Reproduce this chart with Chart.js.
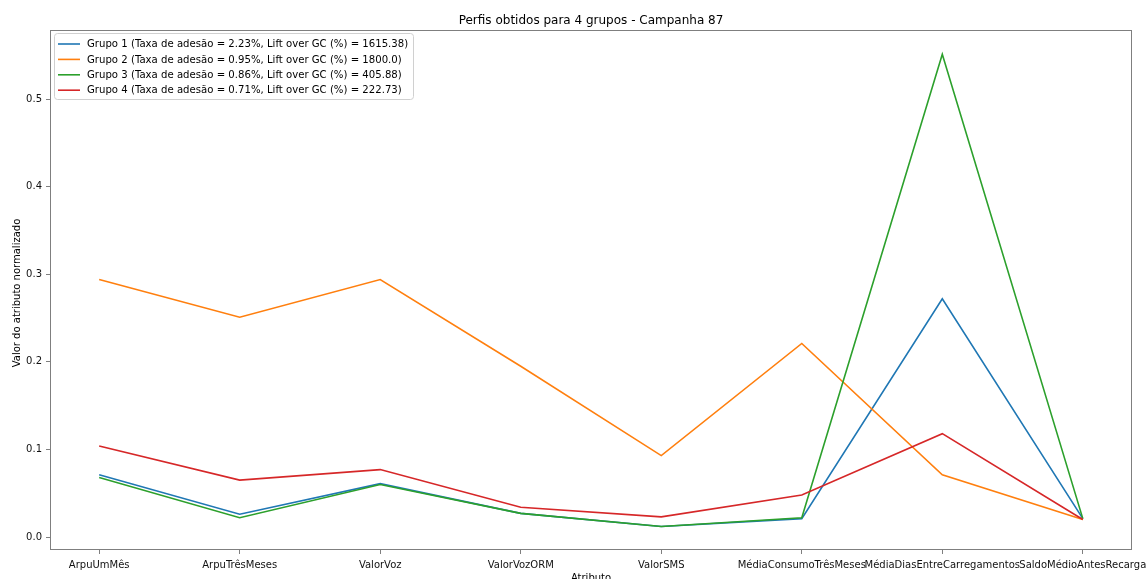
<!DOCTYPE html>
<html>
<head>
<meta charset="utf-8">
<script src="https://cdn.jsdelivr.net/npm/chart.js@4"></script>
<style>
  html, body { margin: 0; padding: 0; background: #fff; }
  #wrap { width: 1148px; height: 579px; }
</style>
</head>
<body>
<div id="wrap"><canvas id="myChart"></canvas></div>
<script>
const categories = ['ArpuUmMês', 'ArpuTrêsMeses', 'ValorVoz', 'ValorVozORM', 'ValorSMS',
  'MédiaConsumoTrêsMeses', 'MédiaDiasEntreCarregamentos', 'SaldoMédioAntesRecarga'];

const grupo1 = [0.071, 0.026, 0.061, 0.027, 0.012, 0.021, 0.272, 0.021];
const grupo2 = [0.294, 0.251, 0.294, 0.195, 0.093, 0.221, 0.071, 0.020];
const grupo3 = [0.068, 0.022, 0.060, 0.027, 0.012, 0.022, 0.551, 0.021];
const grupo4 = [0.104, 0.065, 0.077, 0.034, 0.023, 0.048, 0.118, 0.020];

const seriesLabels = [
  'Grupo 1 (Taxa de adesão = 2.23%, Lift over GC (%) = 1615.38)',
  'Grupo 2 (Taxa de adesão = 0.95%, Lift over GC (%) = 1800.0)',
  'Grupo 3 (Taxa de adesão = 0.86%, Lift over GC (%) = 405.88)',
  'Grupo 4 (Taxa de adesão = 0.71%, Lift over GC (%) = 222.73)'
];
const yTicks = [0.0, 0.1, 0.2, 0.3, 0.4, 0.5];

const colors = ['#1f77b4', '#ff7f0e', '#2ca02c', '#d62728'];
const FONT = 'DejaVu Sans';
const spineColor = '#7f7f7f';

const toPoints = (arr) => arr.map((v, i) => ({x: i, y: v}));

const datasets = [grupo1, grupo2, grupo3, grupo4].map((values, i) => ({
  label: seriesLabels[i],
  data: toPoints(values),
  borderColor: colors[i],
  backgroundColor: colors[i],
  borderWidth: 1.6,
  pointRadius: 0,
  tension: 0,
  fill: false,
  order: 4 - i
}));

// title, axis titles, frame and boxed legend drawn by hand
const decorations = {
  id: 'decorations',
  afterDraw(chart) {
    const ctx = chart.ctx;
    const area = chart.chartArea;
    ctx.save();

    ctx.strokeStyle = spineColor;
    ctx.lineWidth = 1;
    ctx.strokeRect(area.left + 0.5, area.top + 0.5, area.right - area.left - 1, area.bottom - area.top - 1);

    ctx.fillStyle = '#000';
    ctx.textAlign = 'center';
    ctx.textBaseline = 'middle';
    ctx.font = `12px "${FONT}"`;
    ctx.fillText('Perfis obtidos para 4 grupos - Campanha 87', (area.left + area.right) / 2, 21);

    ctx.font = `10px "${FONT}"`;
    ctx.fillText('Atributo', (area.left + area.right) / 2, 578);
    ctx.translate(17, (area.top + area.bottom) / 2 + 3);
    ctx.rotate(-Math.PI / 2);
    ctx.fillText('Valor do atributo normalizado', 0, 0);
    ctx.setTransform(1, 0, 0, 1, 0, 0);

    // legend box
    const bx = 54, by = 33, bw = 359, bh = 66;
    ctx.fillStyle = 'rgba(255,255,255,0.8)';
    ctx.strokeStyle = '#d0d0d0';
    ctx.beginPath();
    ctx.roundRect(bx + 0.5, by + 0.5, bw, bh, 3);
    ctx.fill();
    ctx.stroke();

    ctx.font = `10.15px "${FONT}"`;
    ctx.textAlign = 'left';
    chart.data.datasets.forEach((ds, i) => {
      const y = 44 + i * 15.4;
      ctx.strokeStyle = ds.borderColor;
      ctx.lineWidth = 1.6;
      ctx.beginPath();
      ctx.moveTo(58, y);
      ctx.lineTo(80, y);
      ctx.stroke();
      ctx.fillStyle = '#000';
      ctx.fillText(ds.label, 87, y + 0.5);
    });
    ctx.restore();
  }
};

const renderGraph = () => {
  new Chart(document.getElementById('myChart'), {
    type: 'line',
    data: {datasets},
    options: {
      responsive: true,
      maintainAspectRatio: false,
      animation: false,
      layout: {padding: {top: 30, right: 16, left: 0, bottom: 0}},
      plugins: {
        legend: {display: false},
        title: {display: false},
        tooltip: {enabled: false}
      },
      scales: {
        x: {
          type: 'linear',
          min: -0.35,
          max: categories.length - 1 + 0.35,
          afterFit: (scale) => {
            scale.height = 29;
            scale.paddingLeft = 0;
            scale.paddingRight = 0;
          },
          afterBuildTicks: (scale) => {
            scale.ticks = categories.map((c, i) => ({value: i}));
          },
          ticks: {
            autoSkip: false,
            maxRotation: 0,
            padding: 5,
            color: '#111',
            font: {family: FONT, size: 10},
            callback: (value) => categories[value]
          },
          grid: {drawOnChartArea: false, drawTicks: true, tickLength: 4, color: spineColor},
          border: {display: false}
        },
        y: {
          min: -0.0148,
          max: 0.5788,
          afterFit: (scale) => {
            scale.width = 50;
            scale.paddingTop = 0;
            scale.paddingBottom = 0;
          },
          afterBuildTicks: (scale) => {
            scale.ticks = yTicks.map((v) => ({value: v}));
          },
          ticks: {
            padding: 4,
            color: '#111',
            font: {family: FONT, size: 10},
            callback: (value) => value.toFixed(1)
          },
          grid: {drawOnChartArea: false, drawTicks: true, tickLength: 4, color: spineColor},
          border: {display: false}
        }
      }
    },
    plugins: [decorations]
  });
};

renderGraph();
</script>
</body>
</html>
